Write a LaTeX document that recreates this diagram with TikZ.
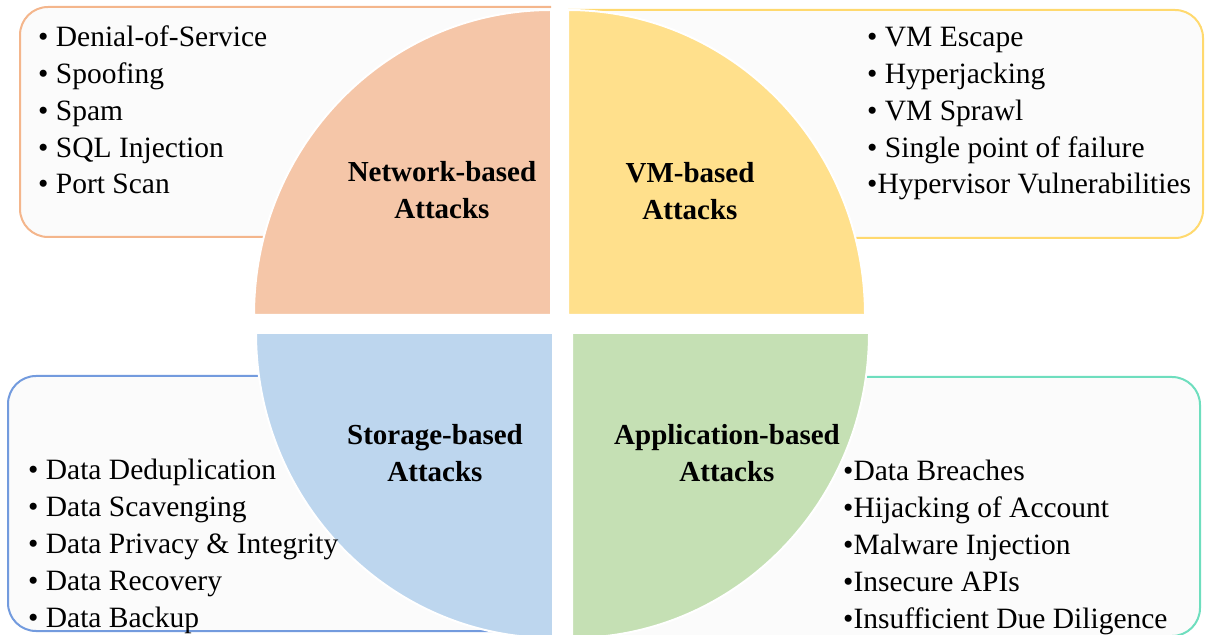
\documentclass[tikz,border=0pt]{standalone}
\usepackage{fontspec}
\setmainfont{Liberation Serif}
\definecolor{netfill}{RGB}{245,198,168}
\definecolor{vmfill}{RGB}{255,224,140}
\definecolor{stofill}{RGB}{189,214,238}
\definecolor{appfill}{RGB}{197,224,180}
\definecolor{netline}{RGB}{244,182,140}
\definecolor{vmline}{RGB}{255,217,110}
\definecolor{stoline}{RGB}{115,155,222}
\definecolor{appline}{RGB}{110,222,190}
\definecolor{boxfill}{RGB}{251,251,251}
\tikzset{
  listbox/.style={rounded corners=28pt, fill=boxfill, line width=2pt},
  quad/.style={draw=white, line width=2pt},
  items/.style={anchor=base west, align=left, inner sep=0pt,
    font=\fontsize{29.5}{36.8}\selectfont},
  title/.style={anchor=base, align=center, inner sep=0pt,
    font=\fontsize{29}{37.5}\selectfont\bfseries},
}

\begin{document}
\begin{tikzpicture}[x=1pt,y=1pt]
        \useasboundingbox (0,0) rectangle (1206,634);
        % boxes behind the circle, cut at the gap
        \begin{scope}
          \clip (0,330) rectangle (551,634);
          \draw[listbox,draw=netline] (20,397) rectangle (700,627);
        \end{scope}
        \begin{scope}
          \clip (568,330) rectangle (1206,634);
          \draw[listbox,draw=vmline] (400,396) rectangle (1203,624);
        \end{scope}
        \begin{scope}
          \clip (0,0) rectangle (553,300);
          \draw[listbox,draw=stoline] (8,3) rectangle (700,258);
        \end{scope}
        \begin{scope}
          \clip (572,0) rectangle (1206,300);
          \draw[listbox,draw=appline] (400,-2) rectangle (1200,257);
        \end{scope}

        % four quarters
        \filldraw[quad,fill=netfill] (551,319) -- (254,319)
          arc[start angle=180, end angle=90, x radius=297, y radius=305] -- cycle;
        \filldraw[quad,fill=vmfill] (568,319) -- (865,319)
          arc[start angle=0, end angle=90, x radius=297, y radius=305] -- cycle;
        \filldraw[quad,fill=stofill] (553,301) -- (256,301)
          arc[start angle=180, end angle=270, x radius=297, y radius=305] -- cycle;
        \filldraw[quad,fill=appfill] (572,301) -- (869,301)
          arc[start angle=0, end angle=-90, x radius=297, y radius=305] -- cycle;

        % titles
        \node[title] (net) at (442,415) {Network-based\\Attacks};
        \node[title] (vm) at (690,414) {VM-based\\Attacks};
        \node[title] (sto) at (435,152) {Storage-based\\Attacks};
        \node[title] (app) at (727,152) {Application-based\\Attacks};

        % lists
        \node[items] (netlist) at (38,440) {• Denial-of-Service\\• Spoofing\\• Spam\\• SQL Injection\\• Port Scan};
        \node[items] (vmlist) at (867,440) {• VM Escape\\• Hyperjacking\\• VM Sprawl\\• Single point of failure\\•Hypervisor Vulnerabilities};
        \node[items] (stolist) at (28,7) {• Data Deduplication\\• Data Scavenging\\• Data Privacy \& Integrity\\• Data Recovery\\• Data Backup};
        \node[items] (applist) at (843,6) {•Data Breaches\\•Hijacking of Account\\•Malware Injection\\•Insecure APIs\\•Insufficient Due Diligence};
\end{tikzpicture}
\end{document}
